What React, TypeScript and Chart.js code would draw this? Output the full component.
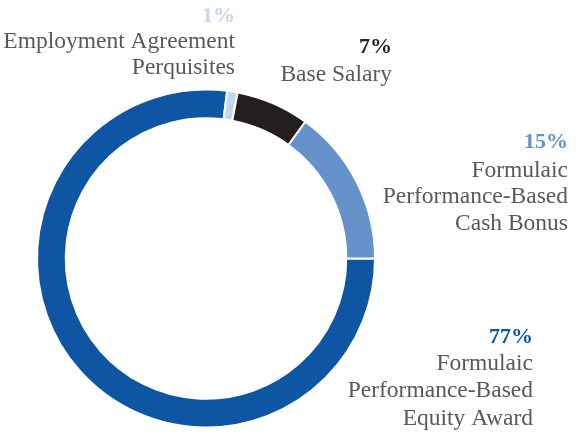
import React, { useEffect, useRef } from "react";
import { Chart, registerables } from "chart.js";

Chart.register(...registerables);

const categories = [
  "Formulaic Performance-Based Equity Award",
  "Employment Agreement Perquisites",
  "Base Salary",
  "Formulaic Performance-Based Cash Bonus",
];
const values = [77, 1, 7, 15];
const sliceColors = ["#0e56a3", "#c6d6ec", "#231f20", "#6592cb"];
const pctLabels = ["77%", "1%", "7%", "15%"];
const nameLines = [
  ["Formulaic", "Performance-Based", "Equity Award"],
  ["Employment Agreement", "Perquisites"],
  ["Base Salary"],
  ["Formulaic", "Performance-Based", "Cash Bonus"],
];

// label layout (right edge x, baseline of percent, baselines of name lines)
const labelLayout = [
  { x: 533, pctY: 343, lineY: [370, 397, 425] },
  { x: 235, pctY: 22, lineY: [48, 74] },
  { x: 392, pctY: 53, lineY: [81] },
  { x: 568, pctY: 148, lineY: [177, 203, 230] },
];

const labelPlugin = {
  id: "sideLabels",
  afterDraw(chart: any) {
    const ctx = chart.ctx;
    ctx.save();
    ctx.textAlign = "right";
    ctx.textBaseline = "alphabetic";
    labelLayout.forEach((l, i) => {
      ctx.fillStyle = sliceColors[i];
      ctx.font = "bold 22px 'Liberation Serif', 'Times New Roman', serif";
      ctx.fillText(pctLabels[i], l.x, l.pctY);
      ctx.fillStyle = "#595959";
      ctx.font = "23.5px 'Liberation Serif', 'Times New Roman', serif";
      nameLines[i].forEach((t, j) => ctx.fillText(t, l.x, l.lineY[j]));
    });
    ctx.restore();
  },
};

export default function App() {
  const ref = useRef<HTMLCanvasElement>(null);
  useEffect(() => {
    const chart = new Chart(ref.current!, {
      type: "doughnut",
      data: {
        labels: categories,
        datasets: [
          {
            data: values,
            backgroundColor: sliceColors,
            borderColor: "#ffffff",
            borderWidth: 2,
          },
        ],
      },
      options: {
        animation: false,
        responsive: false,
        rotation: 90,
        radius: 169,
        cutout: "83%",
        layout: { padding: { left: 37, right: 201, top: 90, bottom: 7 } },
        plugins: { legend: { display: false }, tooltip: { enabled: false } },
      },
      plugins: [labelPlugin],
    });
    return () => chart.destroy();
  }, []);
  return (
    <div style={{ position: "fixed", left: 0, top: 0, width: 576, height: 434, background: "#fff" }}>
      <canvas ref={ref} width={576} height={434} style={{ width: 576, height: 434 }} />
    </div>
  );
}
